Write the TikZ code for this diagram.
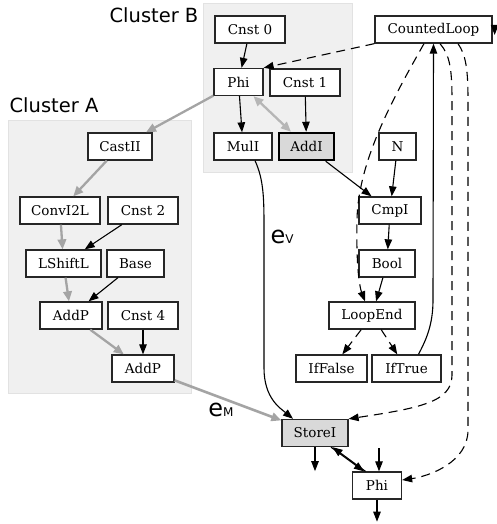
\documentclass[tikz,border=0pt]{standalone}
\usepackage{fontspec}
\setmainfont{DejaVu Serif}
\setsansfont{DejaVu Sans}
\usetikzlibrary{arrows.meta}
\definecolor{clusterbg}{HTML}{F0F0F0}
\definecolor{clusterline}{HTML}{E2E2E2}
\definecolor{memgray}{HTML}{A4A4A4}
\definecolor{boxgray}{HTML}{D9D9D9}

\begin{document}
\begin{tikzpicture}[x=1pt, y=-1pt,
        box/.style={draw=black!85, line width=1.3pt, fill=white, minimum height=27pt,
            inner sep=0pt, font=\fontsize{13.5}{16}\selectfont},
        edge/.style={line width=1.1pt, -{Triangle[length=10pt,width=7.5pt]}},
        ctrl/.style={edge, dash pattern=on 9pt off 6pt},
        mem/.style={draw=memgray, line width=2.6pt, -{Triangle[length=10pt,width=8.5pt]}},
        cluster/.style={fill=clusterbg, draw=clusterline, line width=0.8pt},
        clabel/.style={anchor=base, font=\sffamily\fontsize{19.5}{20}\selectfont},
        elabel/.style={anchor=base, font=\sffamily\fontsize{24}{24}\selectfont}]
        \useasboundingbox (0,0) rectangle (496,524);
        % clusters
        \path[cluster] (8,120) rectangle (191,393);
        \path[cluster] (203,3) rectangle (352,172);
        \node[clabel] (clA) at (54,113) {Cluster A};
        \node[clabel] (clB) at (154,23) {Cluster B};
        % nodes
        \foreach \n/\x/\y/\w/\t in {cnstz/250/29.5/70/Cnst 0, phiA/238.5/82/49/Phi,
                cnstone/305/82.5/70/Cnst 1, mul/243/146.5/58/MulI, nn/397.5/146.5/37/N,
                loop/433.5/29.5/117/CountedLoop, cast/120/146.5/64/CastII,
                conv/60/210.5/80/ConvI2L, cnsttwo/143/210.5/70/Cnst 2,
                lshift/63.5/263.5/75/LShiftL, base/135.5/263.5/57/Base,
                addpA/71/315.5/62/AddP, cnstfour/143/315.5/70/Cnst 4,
                addpB/143/368.5/62/AddP, cmp/390/210.5/62/CmpI, bool/387/263.5/56/Bool,
                loopend/372/315.5/86/LoopEnd, iffalse/331.5/368.5/71/IfFalse,
                iftrue/406.5/368.5/69/IfTrue, phiB/377/485.5/49/Phi} {
            \node[box, minimum width=\w pt] (\n) at (\x,\y) {\t};
        }
        \node[box, fill=boxgray, line width=2.5pt, draw=black, minimum width=55pt] (addi) at (306.5,146.5) {AddI};
        \node[box, fill=boxgray, minimum width=66pt] (store) at (315,433) {StoreI};
        % data edges
        \foreach \a/\b in {cnstz/phiA, phiA/mul, cnstone/addi, cnsttwo/lshift, base/addpA,
                cnstfour/addpB, addi/cmp, nn/cmp, cmp/bool, bool/loopend} {
            \draw[edge] (\a) -- (\b);
        }
        % memory edges
        \foreach \a/\b in {phiA/cast, cast/conv, conv/lshift, lshift/addpA, addpA/addpB} {
            \draw[mem, line width=2.3pt] (\a) -- (\b);
        }
        \draw[mem, line width=2.3pt, {Triangle[length=10pt,width=8.5pt]}-{Triangle[length=10pt,width=8.5pt]}, draw=memgray!80] (phiA) -- (addi);
        \draw[mem] (addpB) -- (store);
        \node[elabel] (em) at (221,416) {e\fontsize{12}{12}\selectfont M};
        % value edge
        \draw[edge] ([xshift=12pt]mul.south) .. controls (264,180) and (264,200) .. (264,230)
            -- (264,368) .. controls (264,398) and (280,408) .. ([xshift=-22pt]store.north);
        \node[elabel] (ev) at (282,243) {e\fontsize{12}{12}\selectfont V};
        % control edges
        \draw[ctrl] (loop.south west) -- (phiA.north east);
        \draw[ctrl] ([xshift=-9.5pt]loop.south) .. controls (395,95) and (358,160) .. (357,220)
            .. controls (356,270) and (360,288) .. ([xshift=-7pt]loopend.north);
        \draw[ctrl] (loopend) -- (iffalse);
        \draw[ctrl] (loopend) -- (iftrue);
        \draw[edge] ([xshift=12pt]iftrue.north) .. controls (426,340) and (433,325) .. (433,300)
            -- (loop.south);
        \draw[ctrl] ([xshift=6.5pt]loop.south) .. controls (450,55) and (452,70) .. (452,100)
            -- (452,375) .. controls (452,402) and (420,408) .. (store.north east);
        \draw[ctrl] ([xshift=24.5pt]loop.south) .. controls (466,55) and (468,70) .. (468,100)
            -- (468,430) .. controls (468,462) and (430,476) .. ([yshift=5.5pt]phiB.east);
        \coordinate (selftop) at ([xshift=2pt,yshift=4.5pt]loop.east);
        \draw[edge] (selftop) -- ([xshift=2pt,yshift=-5.5pt]loop.east);
        % store / phi
        \coordinate (storeout) at ([yshift=-24pt]store.south);
        \draw[edge] (store.south) -- (storeout);
        \draw[edge] ([xshift=16pt]store.south) -- ([xshift=-13pt]phiB.north);
        \draw[edge] ([xshift=-11.5pt]phiB.north) -- ([xshift=17.5pt]store.south);
        \coordinate (phiin) at (379,448);
        \draw[edge] (phiin) -- ([xshift=2pt]phiB.north);
        \coordinate (phiout) at ([yshift=-22pt]phiB.south);
        \draw[edge] (phiB.south) -- (phiout);
\end{tikzpicture}
\end{document}
